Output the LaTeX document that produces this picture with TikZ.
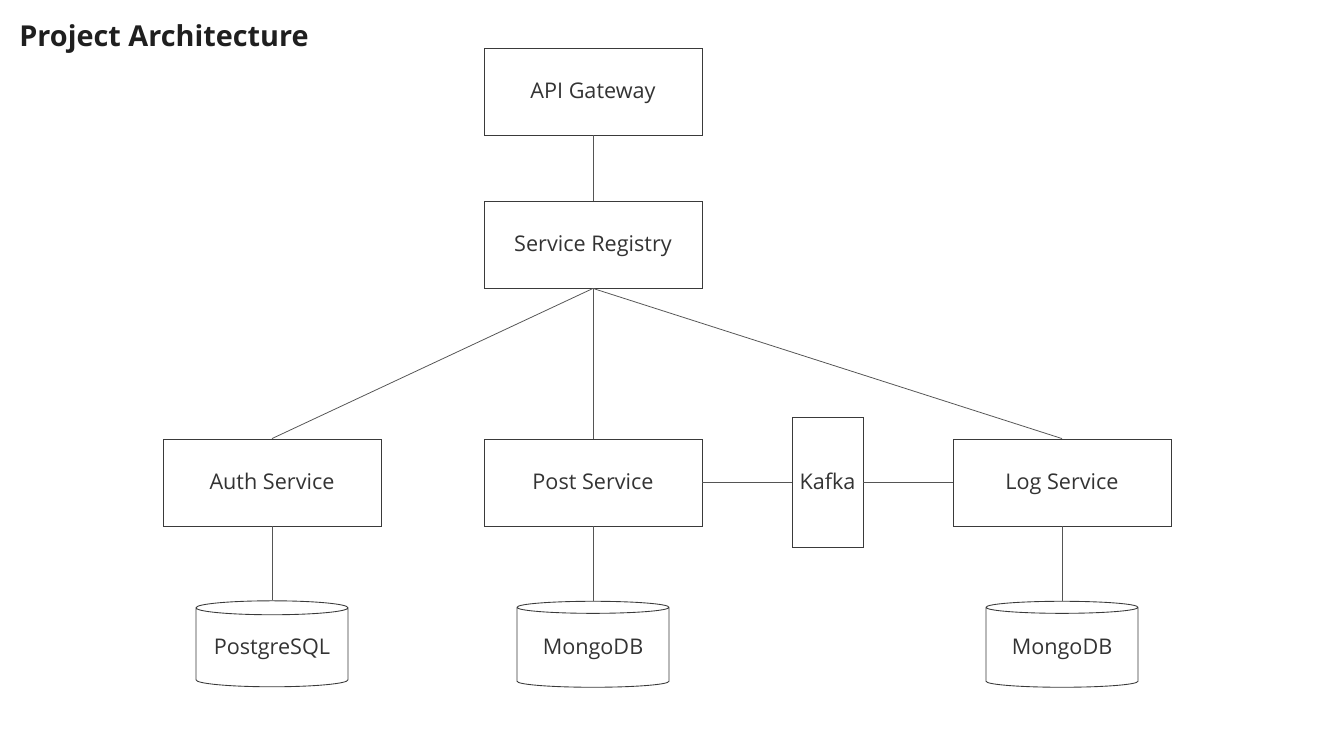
\documentclass[tikz,border=0pt]{standalone}
\usepackage{fontspec}
\setmainfont{Open Sans}
\usetikzlibrary{shapes.geometric}

\definecolor{boxline}{HTML}{3A3A3A}
\definecolor{linkline}{HTML}{555555}
\definecolor{labeltext}{HTML}{333333}

\tikzset{
  service/.style={draw=boxline,line width=0.5pt,rectangle,minimum width=4.36cm,minimum height=1.74cm,inner sep=0pt,text height=1.75ex,text depth=0.25ex,text=labeltext,font=\fontsize{12.3}{14}\selectfont},
  broker/.style={service,minimum width=1.42cm,minimum height=2.6cm},
  database/.style={draw=boxline,line width=0.5pt,cylinder,shape border rotate=90,aspect=0.12,minimum width=3.04cm,minimum height=1.72cm,inner sep=0pt,text height=1.75ex,text depth=0.25ex,text=labeltext,font=\fontsize{12.3}{14}\selectfont},
  link/.style={draw=linkline,line width=0.45pt}
}

\begin{document}
\begin{tikzpicture}[x=0.02cm,y=0.02cm]
 \useasboundingbox (0,0) rectangle (1333,-750);
 \draw (19,-47) node[anchor=base west,inner sep=0pt,font=\fontsize{16.4}{19}\bfseries,text=black!88] (title) {Project Architecture};

 \draw (593,-91.5) node[service] (gateway) {API Gateway};
 \draw (593,-244.5) node[service] (registry) {Service Registry};
 \draw (272,-482.5) node[service] (auth) {Auth Service};
 \draw (593,-482.5) node[service] (post) {Post Service};
 \draw (1062,-482.5) node[service] (log) {Log Service};
 \draw (827.5,-482.5) node[broker] (kafka) {Kafka};

 \draw (272,-647.5) node[database] (authdb) {PostgreSQL};
 \draw (593,-647.5) node[database] (postdb) {MongoDB};
 \draw (1062,-647.5) node[database] (logdb) {MongoDB};

 \draw[link] (gateway.south) -- (registry.north);
 \draw[link] (registry.south) -- (auth.north);
 \draw[link] (registry.south) -- (post.north);
 \draw[link] (registry.south) -- (log.north);
 \draw[link] (post.east) -- (kafka.west);
 \draw[link] (kafka.east) -- (log.west);
 \draw[link] (auth.south) -- (authdb.top);
 \draw[link] (post.south) -- (postdb.top);
 \draw[link] (log.south) -- (logdb.top);
\end{tikzpicture}
\end{document}
